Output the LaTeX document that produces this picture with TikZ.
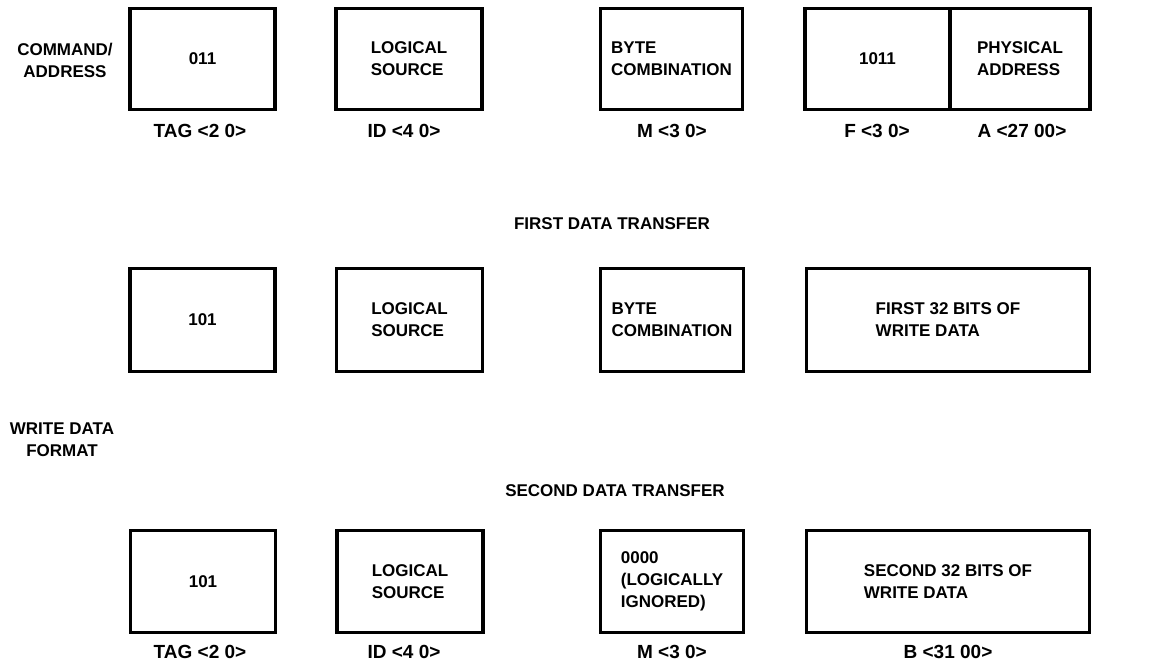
\documentclass[tikz,border=0pt]{standalone}
\usepackage{fontspec}
\setmainfont{Liberation Sans}
\begin{document}
\begin{tikzpicture}[x=1pt,y=-1pt,
  fld/.style={draw=black, line width=3.5pt, rectangle, inner sep=0pt, align=left,
     font=\fontsize{17}{22}\selectfont\bfseries},
  lbl/.style={font=\fontsize{17}{22}\selectfont\bfseries, inner sep=0pt, align=center},
  sub/.style={font=\fontsize{19}{22}\selectfont\bfseries, inner sep=0pt}]
\useasboundingbox (0,0) rectangle (1152,665);
% row 1: command/address
\node[lbl] (cmd) at (65,60) {COMMAND/\\ADDRESS};
\node[fld, minimum width=145pt, minimum height=101pt] (t1) at (202.5,59) {011};
\node[fld, minimum width=146pt, minimum height=101pt] (i1) at (409,59) {LOGICAL\\SOURCE};
\node[fld, minimum width=142pt, minimum height=101pt] (m1) at (671.5,59) {BYTE\\COMBINATION};
\node[fld, minimum width=145pt, minimum height=101pt] (f1) at (877.5,59) {1011};
\node[fld, minimum width=140pt, minimum height=101pt] (a1) at (1020,59) {PHYSICAL\\ADDRESS};
\node[sub] (lt1) at (200,131) {TAG <2 0>};
\node[sub] (li1) at (404,131) {ID <4 0>};
\node[sub] (lm1) at (672,131) {M <3 0>};
\node[sub] (lf1) at (877,131) {F <3 0>};
\node[sub] (la1) at (1022,131) {A <27 00>};
% row 2: first data transfer
\node[lbl] (h2) at (612,224) {FIRST DATA TRANSFER};
\node[fld, minimum width=145pt, minimum height=103pt] (t2) at (202.5,320) {101};
\node[fld, minimum width=146pt, minimum height=103pt] (i2) at (409.5,320) {LOGICAL\\SOURCE};
\node[fld, minimum width=143pt, minimum height=103pt] (m2) at (672,320) {BYTE\\COMBINATION};
\node[fld, minimum width=283pt, minimum height=103pt] (d2) at (948,320) {FIRST 32 BITS OF\\WRITE DATA};
\node[lbl] (wdf) at (62,440) {WRITE DATA\\FORMAT};
% row 3: second data transfer
\node[lbl] (h3) at (615,491) {SECOND DATA TRANSFER};
\node[fld, minimum width=145pt, minimum height=102pt] (t3) at (203,581.5) {101};
\node[fld, minimum width=146pt, minimum height=102pt] (i3) at (410,581.5) {LOGICAL\\SOURCE};
\node[fld, minimum width=143pt, minimum height=102pt] (m3) at (672,581.5) {0000\\(LOGICALLY\\IGNORED)};
\node[fld, minimum width=283pt, minimum height=102pt] (d3) at (948,581.5) {SECOND 32 BITS OF\\WRITE DATA};
\node[sub] (lt3) at (200,652) {TAG <2 0>};
\node[sub] (li3) at (404,652) {ID <4 0>};
\node[sub] (lm3) at (672,652) {M <3 0>};
\node[sub] (lb3) at (948,652) {B <31 00>};
\end{tikzpicture}
\end{document}
